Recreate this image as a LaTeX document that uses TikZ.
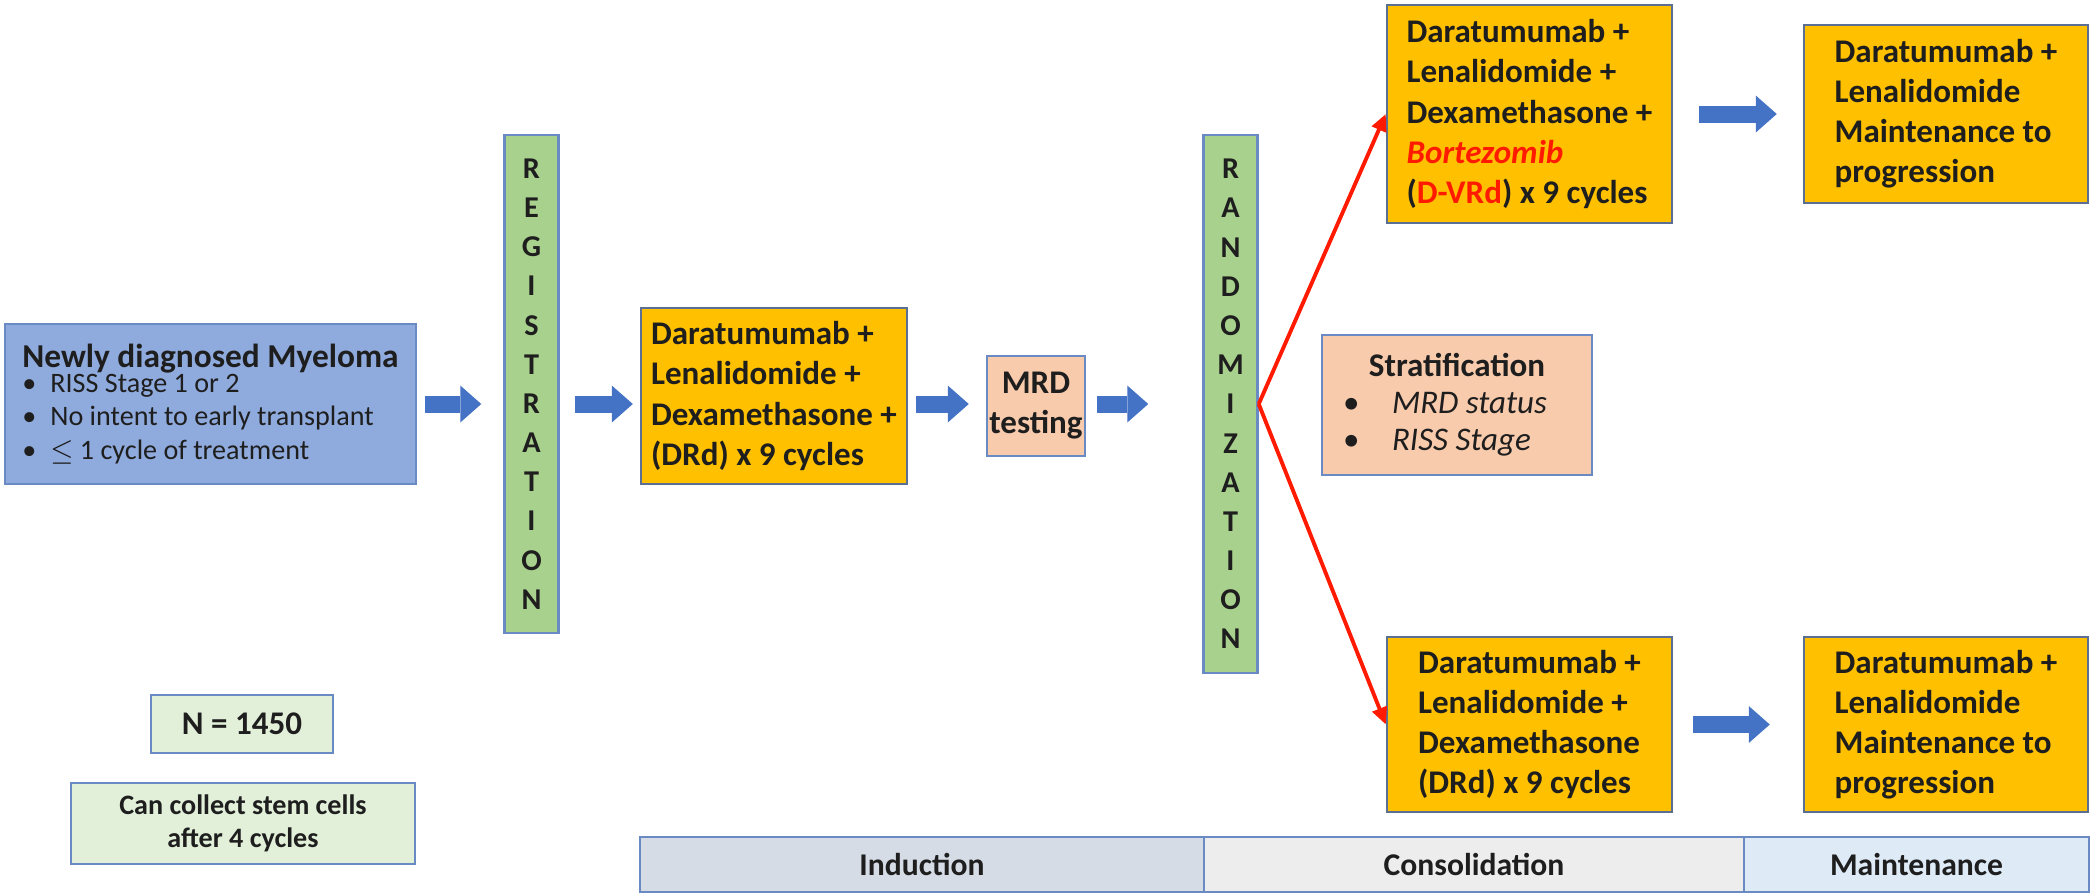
\documentclass[tikz,border=0pt]{standalone}
\usepackage{fontspec}
\setmainfont{Carlito}
\usepackage{tikz}
\usetikzlibrary{arrows.meta, positioning, calc}
\definecolor{edgeblue}{HTML}{6A8AC4}
\definecolor{edgeslate}{HTML}{5A6F92}
\definecolor{stagefill}{HTML}{8FAADC}
\definecolor{gatefill}{HTML}{A9D18E}
\definecolor{drugfill}{HTML}{FFC000}
\definecolor{notefill}{HTML}{F8CBAD}
\definecolor{infofill}{HTML}{E2F0D9}
\definecolor{arrowblue}{HTML}{4472C4}
\definecolor{inductfill}{HTML}{D6DCE5}
\definecolor{consolfill}{HTML}{EDEDED}
\definecolor{maintfill}{HTML}{DEEBF7}
\definecolor{ink}{HTML}{1E1E1E}
\definecolor{drugred}{HTML}{FF1A00}

\begin{document}
\begin{tikzpicture}[
    x=1mm, y=-1mm,
    every node/.style={text=ink, font=\fontsize{9.4}{11.4}\selectfont\bfseries},
    stagebox/.style={
        rectangle,
        draw=edgeblue,
        fill=stagefill,
        line width=0.7pt,
        minimum width=41.1mm,
        minimum height=16mm,
        inner xsep=1.5mm,
        align=left,
        font=\fontsize{8}{9.6}\selectfont\mdseries
    },
    gatebox/.style={
        rectangle,
        draw=edgeblue,
        fill=gatefill,
        line width=0.7pt,
        minimum width=5.4mm,
        inner sep=0pt,
        align=center,
        font=\fontsize{8.6}{11.15}\selectfont\bfseries
    },
    drugbox/.style={
        rectangle,
        draw=edgeslate,
        fill=drugfill,
        line width=0.7pt,
        inner xsep=1mm,
        align=left
    },
    notebox/.style={
        rectangle,
        draw=edgeblue,
        fill=notefill,
        line width=0.7pt
    },
    infobox/.style={
        rectangle,
        draw=edgeblue,
        fill=infofill,
        line width=0.7pt,
        align=center
    },
    phasecell/.style={
        rectangle,
        draw=edgeblue,
        line width=0.7pt,
        outer sep=0pt,
        minimum height=5.5mm,
        font=\fontsize{9}{11}\selectfont\bfseries
    },
    blockarrow/.style={
        draw=arrowblue,
        line width=1.7mm,
        -{Triangle[length=2.1mm, width=3.7mm, line width=0pt]}
    },
    randarrow/.style={
        draw=drugred,
        line width=1.1pt,
        -{Triangle[length=1.7mm, width=1.5mm]}
    }
]

\useasboundingbox (0,0) rectangle (209,89.4);

% Entry, registration and induction
\node[stagebox] (newly) at (21.05,40.4) {%
    {\fontsize{9.5}{11}\selectfont\bfseries Newly diagnosed Myeloma}\\[-2.5pt]
    \makebox[2.8mm][l]{\textbullet}RISS Stage 1 or 2\\
    \makebox[2.8mm][l]{\textbullet}No intent to early transplant\\
    \makebox[2.8mm][l]{\textbullet}$\le$ 1 cycle of treatment};
\node[gatebox, minimum height=49.8mm] (reg) at (53.15,38.4)
    {R\\E\\G\\I\\S\\T\\R\\A\\T\\I\\O\\N};
\node[drugbox, minimum width=26.4mm, minimum height=17.6mm] (drd1) at (77.4,39.6)
    {Daratumumab +\\Lenalidomide +\\Dexamethasone +\\(DRd) x 9 cycles};
\node[notebox, minimum width=9.8mm, minimum height=10mm, inner sep=0pt, align=center] (mrd) at (103.6,40.6)
    {MRD\\testing};
\node[gatebox, minimum height=53.8mm] (rand) at (123.05,40.4)
    {R\\A\\N\\D\\O\\M\\I\\Z\\A\\T\\I\\O\\N};

% Consolidation arms and maintenance
\node[drugbox, minimum width=28.5mm, minimum height=21.8mm] (dvrd) at (152.95,11.4)
    {Daratumumab +\\Lenalidomide +\\Dexamethasone +\\
     \textcolor{drugred}{\textit{Bortezomib}}\\
     (\textcolor{drugred}{D-VRd}) x 9 cycles};
\node[drugbox, minimum width=28.4mm, minimum height=17.8mm] (maint1) at (194.6,11.4)
    {Daratumumab +\\Lenalidomide\\Maintenance to\\progression};
\node[notebox, inner xsep=2.1mm, minimum width=27mm, minimum height=14mm, align=left,
      font=\fontsize{9.4}{10.5}\selectfont\mdseries\itshape] (strat) at (145.7,40.5)
    {\makebox[22.8mm][c]{\upshape\bfseries Stratification}\\
     \makebox[4.9mm][l]{\upshape\textbullet}MRD status\\
     \makebox[4.9mm][l]{\upshape\textbullet}RISS Stage};
\node[drugbox, minimum width=28.5mm, minimum height=17.5mm] (drd2) at (152.95,72.45)
    {Daratumumab +\\Lenalidomide +\\Dexamethasone\\(DRd) x 9 cycles};
\node[drugbox, minimum width=28.4mm, minimum height=17.5mm] (maint2) at (194.6,72.45)
    {Daratumumab +\\Lenalidomide\\Maintenance to\\progression};

% Notes
\node[infobox, minimum width=18.2mm, minimum height=5.8mm] (count) at (24.2,72.4) {N = 1450};
\node[infobox, minimum width=34.4mm, minimum height=8.1mm,
      font=\fontsize{8}{9.4}\selectfont\bfseries] (stem) at (24.3,82.35)
    {Can collect stem cells\\after 4 cycles};

% Phase bar
\node[phasecell, fill=inductfill, minimum width=56.4mm] (induct) at (92.2,86.45) {Induction};
\node[phasecell, fill=consolfill, minimum width=54mm, right=0pt of induct] (consol) {Consolidation};
\node[phasecell, fill=maintfill, minimum width=34.5mm, right=0pt of consol] (maintphase) {Maintenance};

% Block arrows
\draw[blockarrow, shorten <=0.8mm, shorten >=2.2mm] (newly.east) -- (newly.east -| reg.west);
\draw[blockarrow, shorten <=1.5mm, shorten >=0.7mm] (reg.east |- newly.east) -- (drd1.west |- newly.east);
\draw[blockarrow, shorten <=0.8mm, shorten >=1.7mm] (drd1.east |- newly.east) -- (mrd.west |- newly.east);
\draw[blockarrow, shorten <=1.1mm, shorten >=5.4mm] (mrd.east |- newly.east) -- (rand.west |- newly.east);
\draw[blockarrow, shorten <=2.6mm, shorten >=2.6mm] (dvrd.east) -- (maint1.west);
\draw[blockarrow, shorten <=2.0mm, shorten >=3.3mm] (drd2.east) -- (maint2.west);

% Randomization arms
\draw[randarrow] (rand.east) -- (dvrd.west);
\draw[randarrow] (rand.east) -- (drd2.west);

\end{tikzpicture}
\end{document}
